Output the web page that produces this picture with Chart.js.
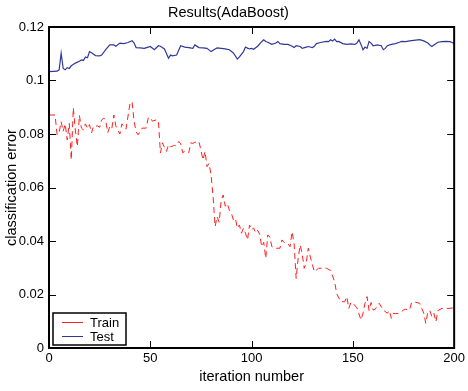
<!DOCTYPE html>
<html>
<head>
<meta charset="utf-8">
<script src="https://cdn.jsdelivr.net/npm/chart.js@4/dist/chart.umd.min.js"></script>
<style>
  html, body { margin: 0; padding: 0; background: #fff; }
  canvas { display: block; }
</style>
</head>
<body>
<canvas id="chart" width="468" height="391"></canvas>
<script>
// values (iteration, error)
const testIter = [0, 4, 5, 6, 7, 8, 9, 10, 11, 13, 15, 16, 17, 18, 19, 20, 21, 22, 23, 25, 26, 28, 30, 32, 33, 35, 37, 39, 41, 42, 43, 45, 47, 49, 50, 52, 54, 55, 57, 59, 60, 61, 63, 65, 67, 69, 71, 72, 74, 76, 78, 80, 82, 83, 85, 87, 89, 91, 93, 94, 96, 97, 98, 99, 100, 101, 103, 105, 106, 107, 108, 110, 112, 113, 114, 116, 118, 120, 121, 122, 124, 125, 127, 128, 130, 131, 132, 134, 137, 138, 139, 140, 141, 142, 143, 145, 147, 149, 151, 152, 153, 154, 155, 156, 157, 158, 159, 160, 162, 164, 165, 166, 167, 169, 171, 173, 174, 176, 178, 180, 182, 183, 185, 187, 188, 189, 190, 192, 194, 196, 198, 199, 200];
const testErr = [0.1033, 0.1035, 0.104, 0.1102, 0.1045, 0.104, 0.1048, 0.1045, 0.1055, 0.1065, 0.1072, 0.1077, 0.1075, 0.1088, 0.1085, 0.1108, 0.1104, 0.1098, 0.1093, 0.1092, 0.1095, 0.1115, 0.1133, 0.1133, 0.1128, 0.114, 0.1138, 0.1142, 0.1149, 0.114, 0.1123, 0.1122, 0.112, 0.1125, 0.1127, 0.1115, 0.113, 0.1128, 0.1118, 0.1083, 0.1095, 0.1092, 0.1095, 0.113, 0.1125, 0.1123, 0.112, 0.1133, 0.1123, 0.1122, 0.112, 0.1108, 0.1118, 0.1122, 0.112, 0.1118, 0.1115, 0.1103, 0.108, 0.1088, 0.1108, 0.1125, 0.1121, 0.1118, 0.112, 0.1117, 0.1128, 0.1145, 0.1152, 0.1146, 0.1143, 0.1135, 0.114, 0.1146, 0.1138, 0.1135, 0.1135, 0.1128, 0.1123, 0.113, 0.1127, 0.112, 0.1125, 0.1127, 0.1123, 0.1128, 0.1138, 0.1142, 0.1146, 0.1145, 0.1152, 0.1148, 0.1155, 0.1145, 0.1146, 0.1138, 0.1135, 0.1137, 0.1135, 0.114, 0.1152, 0.1135, 0.1115, 0.1125, 0.112, 0.1146, 0.114, 0.113, 0.1133, 0.113, 0.1115, 0.112, 0.113, 0.1135, 0.1138, 0.1143, 0.1146, 0.1145, 0.1148, 0.115, 0.1152, 0.1153, 0.1148, 0.114, 0.1133, 0.1127, 0.1133, 0.1143, 0.1145, 0.1146, 0.1145, 0.1142, 0.1138];

const trainIter = [0, 1, 3, 4, 5, 6, 7, 8, 9, 10, 11, 12, 13, 14, 15, 16, 17, 18, 19, 20, 21, 22, 24, 25, 26, 27, 28, 29, 30, 31, 32, 33, 35, 36, 38, 40, 41, 42, 43, 44, 46, 48, 49, 50, 51, 53, 54, 55, 56, 57, 58, 59, 60, 61, 62, 63, 64, 65, 66, 67, 69, 70, 71, 73, 74, 75, 76, 77, 78, 79, 80, 81, 82, 83, 84, 85, 86, 87, 88, 89, 90, 91, 92, 93, 94, 95, 96, 97, 98, 99, 100, 101, 102, 103, 104, 105, 106, 107, 108, 109, 110, 112, 114, 115, 116, 118, 119, 120, 121, 122, 123, 124, 125, 126, 127, 128, 129, 131, 133, 137, 139, 141, 142, 144, 146, 147, 148, 149, 150, 152, 154, 155, 156, 157, 158, 159, 160, 161, 163, 165, 167, 168, 169, 170, 171, 173, 175, 176, 178, 179, 181, 183, 185, 186, 187, 188, 189, 190, 191, 192, 194, 197, 200];
const trainErr = [0.0871, 0.0871, 0.0871, 0.0797, 0.0805, 0.0846, 0.081, 0.0838, 0.0778, 0.084, 0.0703, 0.0898, 0.0815, 0.0753, 0.087, 0.0822, 0.0815, 0.0838, 0.082, 0.0835, 0.0804, 0.083, 0.083, 0.0825, 0.0852, 0.086, 0.085, 0.0805, 0.0828, 0.082, 0.0871, 0.083, 0.08, 0.0838, 0.0818, 0.0915, 0.0921, 0.0848, 0.0808, 0.0797, 0.0822, 0.0822, 0.086, 0.0862, 0.0848, 0.0853, 0.085, 0.0729, 0.0767, 0.075, 0.0735, 0.076, 0.0752, 0.0755, 0.0757, 0.0757, 0.0772, 0.0765, 0.073, 0.0735, 0.073, 0.0767, 0.0765, 0.0772, 0.0772, 0.074, 0.0703, 0.0735, 0.0678, 0.069, 0.0647, 0.0566, 0.0454, 0.0491, 0.047, 0.0553, 0.0572, 0.053, 0.054, 0.0516, 0.0505, 0.0479, 0.0485, 0.0448, 0.046, 0.0429, 0.0448, 0.0429, 0.0404, 0.046, 0.0441, 0.0449, 0.043, 0.044, 0.0425, 0.0379, 0.0395, 0.0335, 0.0423, 0.0415, 0.0379, 0.0373, 0.0373, 0.0404, 0.0395, 0.039, 0.0379, 0.0435, 0.039, 0.026, 0.0337, 0.0385, 0.035, 0.0298, 0.032, 0.0373, 0.034, 0.0285, 0.0298, 0.0298, 0.029, 0.0248, 0.0204, 0.0173, 0.0173, 0.0192, 0.0148, 0.017, 0.0168, 0.015, 0.0105, 0.013, 0.0167, 0.0192, 0.014, 0.017, 0.0142, 0.0145, 0.0167, 0.0142, 0.013, 0.014, 0.0111, 0.013, 0.0128, 0.013, 0.0142, 0.0145, 0.0142, 0.0171, 0.0171, 0.0167, 0.013, 0.0092, 0.0135, 0.014, 0.0117, 0.013, 0.0098, 0.014, 0.0148, 0.0148, 0.015];

const xTicks = [0, 50, 100, 150, 200];
const yTicks = [0, 0.02, 0.04, 0.06, 0.08, 0.1, 0.12];

const trainColor = '#ff1f1f';
const testColor = '#2e3a98';

Chart.defaults.font.family = '"Liberation Sans", Arial, Helvetica, sans-serif';
Chart.defaults.font.size = 13;
Chart.defaults.color = '#000';

function toPoints(xs, ys) {
    return xs.map((v, i) => ({x: v, y: ys[i]}));
}

// box round the plot with inward ticks on all four sides, plus the legend
const frame = {
    id: 'frame',
    afterDatasetsDraw(chart) {
        const {ctx, chartArea: a, scales} = chart;
        const len = 7;
        ctx.save();
        ctx.strokeStyle = '#000';
        ctx.lineWidth = 1;
        ctx.beginPath();
        xTicks.forEach(v => {
            const px = Math.round(scales.x.getPixelForValue(v)) + 0.5;
            ctx.moveTo(px, a.bottom); ctx.lineTo(px, a.bottom - len);
            ctx.moveTo(px, a.top); ctx.lineTo(px, a.top + len);
        });
        yTicks.forEach(v => {
            const py = Math.round(scales.y.getPixelForValue(v)) + 0.5;
            ctx.moveTo(a.left, py); ctx.lineTo(a.left + len, py);
            ctx.moveTo(a.right, py); ctx.lineTo(a.right - len, py);
        });
        ctx.stroke();
        ctx.lineWidth = 2;
        ctx.strokeRect(a.left, a.top, a.right - a.left, a.bottom - a.top);

        const bx = a.left + 4, by = a.bottom - 35, bw = 73, bh = 32;
        ctx.fillStyle = '#fff';
        ctx.fillRect(bx, by, bw, bh);
        ctx.lineWidth = 1.5;
        ctx.strokeRect(bx, by, bw, bh);
        ctx.font = '13px "Liberation Sans", Arial, sans-serif';
        ctx.textBaseline = 'middle';
        chart.data.datasets.forEach((ds, i) => {
            const ly = by + 9 + i * 14;
            ctx.strokeStyle = ds.borderColor;
            ctx.lineWidth = 1;
            ctx.beginPath();
            ctx.moveTo(bx + 9, ly + 0.5);
            ctx.lineTo(bx + 30, ly + 0.5);
            ctx.stroke();
            ctx.fillStyle = '#000';
            ctx.fillText(ds.label, bx + 37, ly + 1);
        });
        ctx.restore();
    }
};

const fmt = v => String(Number(v.toFixed(4)));

new Chart(document.getElementById('chart'), {
    type: 'line',
    data: {
        datasets: [{
            label: 'Train',
            data: toPoints(trainIter, trainErr),
            borderColor: trainColor,
            borderWidth: 1,
            borderDash: [6, 4],
            pointRadius: 0,
            tension: 0
        }, {
            label: 'Test',
            data: toPoints(testIter, testErr),
            borderColor: testColor,
            borderWidth: 1.2,
            pointRadius: 0,
            tension: 0
        }]
    },
    options: {
        responsive: false,
        animation: false,
        devicePixelRatio: 1,
        layout: {padding: {left: 0, right: 11, top: 0, bottom: 0}},
        plugins: {
            legend: {display: false},
            tooltip: {enabled: false},
            title: {
                display: true,
                text: 'Results(AdaBoost)',
                font: {size: 14.5, weight: 'normal'},
                padding: {top: 4, bottom: 5.6}
            }
        },
        scales: {
            x: {
                type: 'linear',
                min: 0,
                max: 200,
                grid: {display: false, drawTicks: false},
                border: {display: false},
                afterBuildTicks: s => { s.ticks = xTicks.map(v => ({value: v})); },
                ticks: {padding: 3, maxRotation: 0, callback: fmt},
                title: {display: true, text: 'iteration number', font: {size: 14.5}, padding: {top: 0, bottom: 5}},
                afterFit: s => { s.height = 43; }
            },
            y: {
                min: 0,
                max: 0.12,
                grid: {display: false, drawTicks: false},
                border: {display: false},
                afterBuildTicks: s => { s.ticks = yTicks.map(v => ({value: v})); },
                ticks: {padding: 5, callback: fmt},
                title: {display: true, text: 'classification error', font: {size: 14.5}, padding: {top: 3, bottom: 0}},
                afterFit: s => { s.width = 49; }
            }
        }
    },
    plugins: [frame]
});
</script>
</body>
</html>
